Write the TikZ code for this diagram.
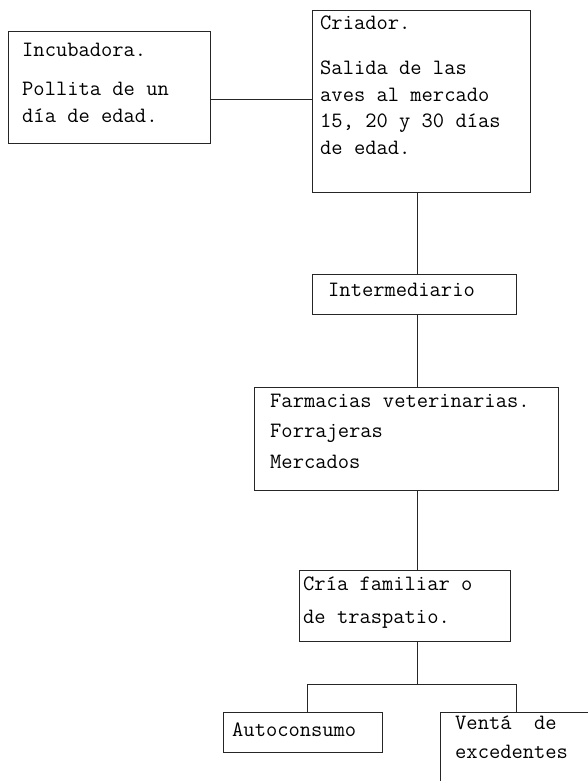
\documentclass[tikz,border=0pt]{standalone}
\usepackage{fontspec}
\begin{document}
\begin{tikzpicture}[x=1pt,y=-1pt,
  box/.style={draw=black!85,line width=0.9pt,inner sep=0pt,outer sep=0pt},
  link/.style={draw=black!85,line width=0.9pt},
  txt/.style={anchor=base west,inner sep=0pt,font=\ttfamily\fontsize{21.9}{26}\selectfont}]
\useasboundingbox (0,0) rectangle (588,781);
\clip (0,0) rectangle (588,781);
% boxes
\node[box,minimum width=202pt,minimum height=112pt] (incub) at (109,87) {};
\node[box,minimum width=218pt,minimum height=182pt] (criador) at (421,101) {};
\node[box,minimum width=204pt,minimum height=40pt] (inter) at (414,294) {};
\node[box,minimum width=304pt,minimum height=103pt] (farm) at (406,438.5) {};
\node[box,minimum width=211pt,minimum height=71pt] (cria) at (404.5,605.5) {};
\node[box,minimum width=159pt,minimum height=40pt] (auto) at (302.5,732) {};
\node[box,minimum width=180pt,minimum height=108pt] (venta) at (530,766) {};
% texts
\node[txt] (t1) at (22,57) {Incubadora.};
\node[txt] (t2) at (22,96) {Pollita de un};
\node[txt] (t3) at (22,122) {día de edad.};
\node[txt] (t4) at (320,30) {Criador.};
\node[txt] (t5) at (320,75) {Salida de las};
\node[txt] (t6) at (320,102) {aves al mercado};
\node[txt] (t7) at (320,128) {15, 20 y 30 días};
\node[txt] (t8) at (320,154) {de edad.};
\node[txt] (t9) at (328,296) {Intermediario};
\node[txt] (t10) at (270,407) {Farmacias veterinarias.};
\node[txt] (t11) at (270,437) {Forrajeras};
\node[txt] (t12) at (270,468) {Mercados};
\node[txt] (t13) at (303,590) {Cría familiar o};
\node[txt] (t14) at (303,623) {de traspatio.};
\node[txt] (t15) at (232,736) {Autoconsumo};
\node[txt] (t16) at (455,729) {Ventá\ \ de};
\node[txt] (t17) at (455,758) {excedentes};
% connectors
\coordinate (spine) at (417,0);
\coordinate (jc) at (417,684);
\coordinate (jl) at (307,684);
\coordinate (jr) at (516,684);
\draw[link] ([yshift=-12pt]incub.east) -- ([yshift=-12pt]incub.east -| criador.west);
\draw[link] (criador.south -| spine) -- (inter.north -| spine);
\draw[link] (inter.south -| spine) -- (farm.north -| spine);
\draw[link] (farm.south -| spine) -- (cria.north -| spine);
\draw[link] (cria.south -| spine) -- (jc);
\draw[link] (jl) -- (jr);
\draw[link] (jl) -- (auto.north -| jl);
\draw[link] (jr) -- (venta.north -| jr);
\end{tikzpicture}
\end{document}
